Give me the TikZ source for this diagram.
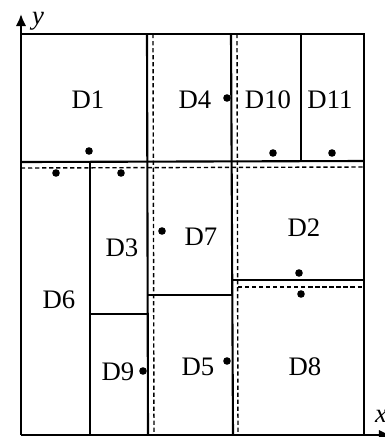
\documentclass[tikz,border=0pt]{standalone}
\usepackage{fontspec}
\setmainfont{Liberation Serif}
\usetikzlibrary{arrows.meta}

\begin{document}
\begin{tikzpicture}[x=0.025cm,y=-0.025cm,
  wall/.style={line width=1.5pt},
  cut/.style={line width=1pt,dash pattern=on 3pt off 2pt},
  pt/.style={circle,fill,inner sep=0pt,minimum size=0.19cm},
  lbl/.style={font=\fontsize{19}{22}\selectfont,inner sep=0pt}]
\useasboundingbox (0,0) rectangle (385,437);
% axes
\coordinate (o) at (21,435);
\coordinate (ytop) at (21,14);
\coordinate (xend) at (391,435);
\draw[wall,-{Latex[length=0.3cm,width=0.26cm]}] (o)--(ytop);
\draw[wall,-{Latex[length=0.3cm,width=0.26cm]}] (o)--(xend);
\node[lbl] (ylab) at (38,21) {\textit{y}};
\node[lbl] (xlab) at (381,416) {\textit{x}};
% solid borders
\draw[wall] (21,34)--(364,34)--(364,435);
\draw[wall] (147,34)--(148,435);
\draw[wall] (231,34)--(233,435);
\draw[wall] (21,162)--(364,161);
\draw[wall] (301,34)--(301,161);
\draw[wall] (90,162)--(90,435);
\draw[wall] (90,314)--(147,314);
\draw[wall] (148,295)--(232,295);
\draw[wall] (233,280)--(364,280);
% dashed cuts
\draw[cut] (153,34)--(154,435);
\draw[cut] (237,34)--(238,435);
\draw[cut] (21,168)--(364,167);
\draw[cut] (238,287)--(364,287);
% points
\node[pt] (p1) at (89,151) {};
\node[pt] (p6a) at (56,173) {};
\node[pt] (p6b) at (121,173) {};
\node[pt] (p4) at (227,98) {};
\node[pt] (p10) at (273,153) {};
\node[pt] (p11) at (332,153) {};
\node[pt] (p7) at (162,231) {};
\node[pt] (p9) at (143,371) {};
\node[pt] (p5) at (227,361) {};
\node[pt] (p2) at (299,273) {};
\node[pt] (p8) at (301,294) {};
% labels
\node[lbl] (d1) at (88,100) {D1};
\node[lbl] (d4) at (195,100) {D4};
\node[lbl] (d10) at (268,100) {D10};
\node[lbl] (d11) at (330,100) {D11};
\node[lbl] (d3) at (122,248) {D3};
\node[lbl] (d6) at (59,300) {D6};
\node[lbl] (d7) at (201,237) {D7};
\node[lbl] (d2) at (304,228) {D2};
\node[lbl] (d9) at (118,372) {D9};
\node[lbl] (d5) at (198,367) {D5};
\node[lbl] (d8) at (305,367) {D8};
\end{tikzpicture}
\end{document}
